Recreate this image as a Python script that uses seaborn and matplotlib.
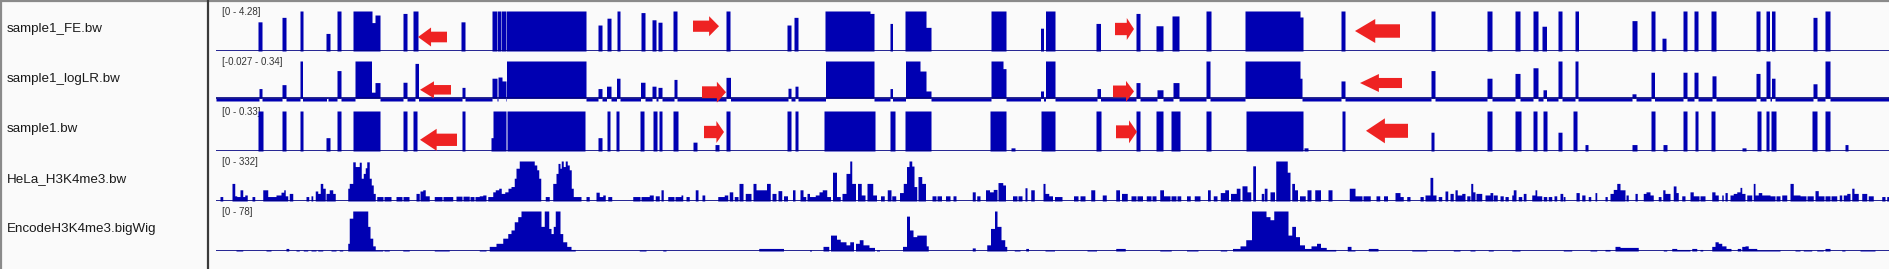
import numpy as np
import pandas as pd
import matplotlib
matplotlib.use("Agg")
import matplotlib.pyplot as plt
from matplotlib.patches import Polygon
from matplotlib.transforms import blended_transform_factory
import seaborn as sns

# ---------------------------------------------------------------- data
LOCUS = (216, 1890)          # genomic window (arbitrary position units)

TRACK_NAMES = ["sample1_FE.bw", "sample1_logLR.bw", "sample1.bw",
               "HeLa_H3K4me3.bw", "EncodeH3K4me3.bigWig"]
RANGE_LABELS = ["[0 - 4.28]", "[-0.027 - 0.34]", "[0 - 0.33]", "[0 - 332]", "[0 - 78]"]
Y_MIN = [0, -0.027, 0, 0, 0]
Y_MAX = [4.28, 0.34, 0.33, 332, 78]
BACKGROUND = [0, -0.027, 0, 0, 0]

# (start, end, value)
FE_PEAKS = [
    (258, 262, 3.12), (282, 286, 3.60), (300, 303, 4.28), (326, 330, 1.88), (337, 341, 4.28),
    (353, 372, 4.28), (372, 375, 3.04), (375, 380, 3.85), (403, 407, 4.02), (413, 418, 4.28),
    (461, 465, 3.12), (492, 497, 4.28), (497.5, 501, 4.28), (501.5, 506, 4.28), (506.5, 586, 4.28),
    (598, 602, 2.78), (607, 611, 3.51), (617, 620, 4.28), (641, 645, 4.11), (652, 656, 3.34),
    (658, 662, 3.08), (673, 677, 4.28), (726, 730, 4.28), (787, 791, 2.78), (794, 798, 3.60),
    (825, 870, 4.28), (870, 874, 4.02), (890, 892.5, 2.95), (905, 926, 4.28), (926, 931, 2.53),
    (991, 1006, 4.28), (1040.5, 1043.5, 2.44), (1045.5, 1055, 4.28), (1096, 1100.5, 2.95),
    (1136, 1140, 4.02), (1156, 1163, 2.70), (1172, 1179, 3.75), (1206, 1211, 4.28),
    (1245, 1300, 4.28), (1300, 1303, 3.64), (1341, 1345, 4.28), (1431, 1435, 4.28),
    (1487, 1492, 4.28), (1515, 1520, 4.28), (1533, 1538, 4.28), (1542, 1546.5, 2.65),
    (1558, 1562, 4.28), (1575, 1578.5, 4.28), (1632, 1637, 3.25), (1651, 1655, 4.28),
    (1662, 1666, 1.37), (1683, 1687, 4.28), (1694, 1698, 4.28), (1711, 1716, 4.28),
    (1756, 1760, 4.28), (1766, 1769.5, 4.28), (1771.5, 1775, 4.28), (1813, 1817, 3.60),
    (1825, 1830, 4.28),
]

LOGLR_PEAKS = [
    (259, 262, 0.087), (282, 286, 0.123), (300, 302.5, 0.34), (326.5, 328, 0.003), (337, 341, 0.252),
    (355, 371.5, 0.34), (371.5, 375, 0.054), (375, 380, 0.142), (403, 407, 0.145), (415, 418.5, 0.318),
    (462, 465, 0.098), (492, 497, 0.182), (498, 502, 0.193), (502, 506, 0.157), (506.5, 586, 0.34),
    (598, 602, 0.087), (606.5, 611, 0.109), (616.5, 620, 0.182), (640.5, 645, 0.145), (652, 656, 0.109),
    (658, 662, 0.098), (674, 677, 0.171), (726, 730.5, 0.19), (788, 791, 0.09), (795, 798, 0.109),
    (825.5, 874, 0.34), (890, 892.5, 0.087), (905.5, 920, 0.34), (920, 926, 0.248), (926, 931, 0.065),
    (991, 1003, 0.34), (1003, 1006, 0.27), (1040.5, 1043.5, 0.065), (1045.5, 1055, 0.34),
    (1097, 1100.5, 0.087), (1136, 1140, 0.142), (1157, 1163, 0.076), (1173, 1179, 0.142),
    (1206, 1210, 0.34), (1245, 1300, 0.34), (1300, 1302, 0.182), (1341, 1345, 0.157),
    (1431, 1435, 0.252), (1487, 1492, 0.182), (1515, 1520, 0.226), (1533, 1538, 0.278),
    (1543, 1546.5, 0.076), (1558, 1562, 0.34), (1575, 1578, 0.34), (1632, 1636, 0.039),
    (1651, 1654.5, 0.237), (1683, 1687, 0.237), (1694, 1698, 0.237), (1712, 1716, 0.204),
    (1756, 1760, 0.226), (1766, 1770, 0.34), (1771.5, 1775, 0.182), (1813, 1817, 0.131),
    (1825, 1830, 0.34),
]

SAMPLE_PEAKS = [
    (258, 263, 0.33), (282, 286, 0.33), (300, 303, 0.33), (326, 330, 0.11), (337, 341, 0.33),
    (353, 380, 0.33), (403, 407, 0.33), (413, 417, 0.33), (462, 465, 0.33), (491, 493, 0.11),
    (493, 506, 0.33), (507, 585, 0.33), (598, 602, 0.11), (607, 610, 0.33), (616, 619, 0.33),
    (640, 644, 0.33), (653, 657, 0.33), (659, 662, 0.33), (673, 678, 0.33), (693, 697, 0.073),
    (715, 719, 0.053), (726, 730, 0.33), (787, 791, 0.33), (795, 798, 0.33), (824, 875, 0.33),
    (890, 895, 0.33), (905, 931, 0.33), (990, 1006, 0.33), (1011, 1015, 0.026), (1041, 1055, 0.33),
    (1096, 1101, 0.33), (1136, 1140, 0.33), (1156, 1163, 0.33), (1171, 1180, 0.33),
    (1206, 1211, 0.33), (1246, 1303, 0.33), (1304, 1308, 0.026), (1342, 1345, 0.33),
    (1431, 1434, 0.155), (1487, 1492, 0.33), (1515, 1521, 0.33), (1533, 1537, 0.33),
    (1543, 1547, 0.33), (1558, 1562, 0.155), (1573, 1577, 0.33), (1585, 1588, 0.053),
    (1632, 1637, 0.053), (1651, 1655, 0.33), (1663, 1667, 0.053), (1683, 1687, 0.33),
    (1695, 1698, 0.33), (1711, 1715, 0.33), (1742, 1746, 0.026), (1757, 1761, 0.33),
    (1766, 1769, 0.33), (1771, 1776, 0.33), (1812, 1817, 0.33), (1825, 1830, 0.33),
    (1845, 1848, 0.053),
]

HELA_PEAKS = [
    (220, 222.7, 37), (232, 234.7, 146), (234.7, 236.7, 43), (236.7, 240, 37), (240, 242.7, 93),
    (242.7, 244.7, 37), (244.7, 247.3, 50), (252, 254.7, 37), (262.7, 267.7, 93), (267.7, 276, 37),
    (276, 281, 50), (281, 283.7, 73), (283.7, 285.3, 93), (285.3, 287.7, 43), (289.3, 292.7, 63),
    (306, 308.7, 37), (311, 312.7, 43), (315.3, 317.7, 83), (317.7, 320.3, 63), (320.3, 322.7, 146),
    (322.7, 325.3, 106), (326, 329.3, 63), (329.3, 332.7, 93), (332.7, 335.3, 63),
    (347.7, 349.3, 106), (349.3, 352.7, 146), (352.7, 355.3, 325), (355.3, 359.3, 286),
    (359.3, 361.3, 322), (361.3, 363.3, 189), (363.3, 365.3, 229), (365.3, 366.7, 276),
    (366.7, 369.3, 325), (369.3, 371.3, 189), (371.3, 373.3, 133), (373.3, 375.3, 63),
    (376.7, 383, 37), (384, 391, 37), (396, 402, 37), (403, 409, 37), (416, 419.3, 63),
    (420, 422.7, 83), (422.7, 425.3, 93), (425.3, 429.3, 43), (434.3, 442, 37), (443, 452.7, 37),
    (456, 462, 40), (463, 469.3, 40), (470, 474, 37), (475, 479.3, 37), (479.3, 482.7, 43),
    (482.7, 486, 50), (487.7, 492.7, 37), (492.7, 495.3, 76), (495.3, 498.7, 93), (498.7, 501.3, 106),
    (501.3, 504.7, 63), (504.7, 508, 76), (508, 511, 106), (511, 514.3, 120), (514.3, 516, 189),
    (516, 519.3, 272), (519.3, 534.3, 332), (534.3, 536.7, 299), (536.7, 538.7, 259),
    (538.7, 540.7, 189), (545.3, 549.3, 37), (552.7, 556, 146), (556, 558, 229), (558, 560, 312),
    (560, 561.3, 272), (561.3, 563.3, 332), (563.3, 565.3, 286), (565.3, 567.3, 332),
    (567.3, 569.3, 299), (569.3, 571.3, 259), (571.3, 573.3, 106), (573.3, 581, 37),
    (586, 589.3, 37), (596, 599.3, 73), (599.3, 602.7, 37), (602.7, 605.3, 50), (607.7, 611.7, 37),
    (632.7, 640, 37), (641, 649.3, 37), (649.3, 653.3, 50), (655.3, 659.3, 43), (661, 663.3, 93),
    (667.7, 674, 37), (675, 681, 37), (681, 682.7, 50), (686, 689.3, 37), (695.3, 698, 93),
    (702, 704.7, 50), (717.7, 724.3, 37), (724.3, 727.7, 50), (729.3, 732.7, 76), (734.3, 738, 37),
    (739, 743, 146), (745.3, 751, 63), (753, 756, 146), (756, 758.7, 93), (758.7, 766.4, 93),
    (766.4, 770.2, 146), (772, 776, 63), (778, 781.7, 86), (783.6, 787.4, 43), (792.4, 795, 93),
    (800, 803, 93), (803, 805.7, 37), (806.9, 809.6, 63), (809.6, 815.3, 37), (815.3, 819.1, 50),
    (819.1, 822.2, 76), (822.2, 826.8, 93), (826.8, 830.6, 37), (832.5, 836.4, 239),
    (836.4, 840.2, 37), (842.1, 845.9, 63), (845.9, 849.8, 229), (849.8, 851.7, 332),
    (851.7, 855.5, 146), (857.4, 861.2, 146), (861.2, 865.1, 50), (867, 872.7, 146),
    (872.7, 876.5, 50), (880.4, 884.2, 43), (887.3, 891.1, 93), (891.8, 895.7, 43),
    (899.5, 903.3, 70), (903.3, 906.4, 146), (906.4, 909.1, 286), (909.1, 911.7, 332),
    (911.7, 914, 290), (914, 916.7, 120), (917.9, 921.7, 203), (921.7, 925.5, 146),
    (932, 936, 43), (937, 941.6, 43), (945.4, 950, 43), (953, 956, 43), (972.2, 975.3, 76),
    (976.8, 979.9, 43), (985.6, 989.4, 93), (989.4, 993.3, 76), (993.3, 997.1, 96),
    (997.9, 1002.8, 153), (1002.8, 1005.5, 133), (1012.4, 1017, 43), (1018, 1022, 43),
    (1025, 1027, 110), (1030.8, 1034.2, 93), (1043, 1045, 146), (1045, 1048.8, 63),
    (1048.8, 1052.6, 43), (1054.5, 1062.1, 37), (1073.6, 1078, 43), (1080, 1085.1, 43),
    (1090.8, 1094.7, 93), (1102.3, 1106.2, 50), (1115.7, 1119.5, 93), (1121.5, 1127.2, 63),
    (1131, 1136, 43), (1137, 1142.5, 43), (1146.3, 1151, 43), (1152, 1155.9, 43),
    (1159.7, 1163.6, 93), (1163.6, 1170, 43), (1171, 1176, 43), (1177, 1180.8, 43),
    (1186.5, 1190.3, 43), (1194.2, 1199.9, 43), (1207.6, 1210.3, 93), (1213.3, 1217.1, 43),
    (1220.2, 1224.8, 70), (1224.8, 1228.6, 93), (1230.5, 1236.3, 63), (1236.3, 1240.1, 106),
    (1242, 1247, 126), (1247, 1250.8, 76), (1252.7, 1255.4, 292), (1261.2, 1263.8, 63),
    (1264.2, 1266.9, 106), (1270, 1274.5, 76), (1275.7, 1287.2, 332), (1287.2, 1289.9, 239),
    (1291.8, 1294.5, 146), (1294.5, 1297.5, 93), (1299.4, 1305.2, 43), (1307.1, 1310.9, 93),
    (1314.7, 1320.5, 93), (1328.1, 1332, 93), (1349.2, 1354.9, 106), (1354.9, 1362, 43),
    (1363, 1370.2, 43), (1376, 1379.8, 43), (1383.6, 1387.4, 43), (1395.1, 1400, 70),
    (1400, 1403.3, 37), (1406.7, 1410, 37), (1420, 1423.3, 37), (1425, 1430, 50),
    (1430, 1432.7, 196), (1432.7, 1436, 50), (1438.3, 1441.7, 37), (1445, 1447.7, 83),
    (1450, 1453.3, 63), (1455, 1457.3, 93), (1457.3, 1461.7, 50), (1461.7, 1465, 63),
    (1466.7, 1470, 43), (1470.7, 1472.7, 146), (1472.7, 1475, 76), (1476, 1481.7, 63),
    (1485, 1490, 50), (1490, 1492.7, 70), (1493.3, 1497.3, 50), (1500, 1503.3, 43),
    (1505, 1508.3, 37), (1511.7, 1513.3, 50), (1513.3, 1516, 93), (1518.3, 1521.7, 37),
    (1523.3, 1526, 63), (1531.7, 1535, 50), (1535, 1536.7, 93), (1536.7, 1541.7, 43),
    (1543.3, 1546.7, 37), (1548.3, 1551.7, 37), (1554, 1556.7, 43), (1560, 1562.7, 63),
    (1563.3, 1565, 37), (1576, 1579.3, 70), (1581.7, 1585, 50), (1588.3, 1590.7, 37),
    (1595, 1596.7, 70), (1605, 1607.3, 37), (1610, 1613.3, 63), (1613.3, 1616.7, 96),
    (1616.7, 1620, 146), (1620, 1625, 93), (1626, 1628.3, 50), (1635, 1637.3, 63),
    (1643.3, 1646, 63), (1646, 1650, 76), (1650, 1653.3, 50), (1658.3, 1661, 37),
    (1662.7, 1665, 93), (1665, 1670, 63), (1673.3, 1676, 125), (1676, 1678.3, 70),
    (1681.7, 1685, 43), (1690, 1693.3, 76), (1693.3, 1699, 43), (1700, 1705, 43),
    (1711.7, 1715, 76), (1715, 1718.3, 50), (1721.7, 1723.3, 50), (1725, 1727.3, 70),
    (1730, 1733.3, 50), (1733.3, 1736.7, 63), (1736.7, 1740, 76), (1740, 1741.7, 113),
    (1741.7, 1745, 63), (1746.7, 1751.7, 50), (1753.3, 1755, 146), (1755, 1758.3, 50),
    (1758.3, 1761.7, 70), (1761.7, 1770, 50), (1770, 1775, 43), (1776, 1780, 43),
    (1781.7, 1786.7, 50), (1790, 1793.3, 146), (1793.3, 1800, 50), (1800, 1806, 43),
    (1807, 1813.3, 43), (1815, 1818.3, 86), (1818.3, 1824, 43), (1825, 1830, 43),
    (1831, 1836.7, 43), (1839.3, 1841.7, 50), (1843.3, 1846.7, 50), (1846.7, 1850, 63),
    (1851.7, 1854, 106), (1854, 1858.3, 63), (1861.7, 1866.7, 63), (1868.3, 1873.3, 43),
    (1881.7, 1885, 37), (1886.7, 1890, 37),
]

ENCODE_PEAKS = [
    (236, 242.7, 2), (266, 271, 2), (286, 288.7, 5), (296, 299.3, 2), (303.3, 307.7, 2),
    (311, 316, 2), (317.7, 322.7, 2), (331, 336, 2), (339.3, 342.7, 2), (347.7, 349.3, 15),
    (349.3, 352.7, 64), (352.7, 367.7, 78), (367.7, 370, 48), (370, 372.7, 25), (372.7, 375.3, 10),
    (375.3, 382.7, 2), (384, 389.3, 2), (402.7, 409.3, 2), (434.3, 449.3, 2), (479.3, 486, 2),
    (489.3, 496, 9), (496, 502.7, 15), (502.7, 507.7, 25), (507.7, 511, 34), (511, 514.3, 41),
    (514.3, 517.7, 57), (517.7, 521, 67), (521, 541, 78), (541, 544.3, 48), (544.3, 548.7, 78),
    (548.7, 551, 44), (551, 553.3, 34), (553.3, 555.3, 48), (555.3, 560, 78), (560, 562.7, 34),
    (562.7, 566.7, 18), (566.7, 571, 9), (571, 575.3, 3), (639.3, 646, 2), (662.7, 666, 2),
    (758.7, 783.6, 5), (809.6, 811.5, 2), (823, 828.7, 9), (830.6, 836.4, 31), (836.4, 840.2, 23),
    (840.2, 845.9, 18), (845.9, 849.8, 12), (849.8, 853.6, 18), (855.5, 859.3, 15),
    (859.3, 863.1, 22), (863.1, 868.9, 12), (868.9, 874.6, 7), (876.5, 879.6, 2),
    (902.6, 906.4, 9), (906.4, 909.5, 68), (909.5, 912.9, 41), (912.9, 916.7, 28),
    (916.7, 926.3, 31), (926.3, 928.2, 10), (972.2, 975.3, 6), (986.8, 990.6, 12),
    (990.6, 994.4, 44), (994.4, 997.1, 78), (997.1, 1000.9, 48), (1000.9, 1004.7, 22),
    (1004.7, 1006.7, 9), (1014.3, 1020, 2), (1025.8, 1028.5, 5), (1044.9, 1054.5, 2),
    (1087, 1096.6, 2), (1115.7, 1125.3, 5), (1159.7, 1171.2, 2), (1186.5, 1198, 2),
    (1220.2, 1226.7, 2), (1232.5, 1240.1, 5), (1240.1, 1245.8, 10), (1245.8, 1251.6, 22),
    (1251.6, 1266.1, 78), (1266.1, 1269.9, 67), (1269.9, 1273.8, 61), (1273.8, 1287.9, 78),
    (1287.9, 1291.8, 31), (1291.8, 1295.6, 48), (1295.6, 1299.4, 28), (1299.4, 1304.4, 12),
    (1304.4, 1310.9, 5), (1310.9, 1316.6, 10), (1316.6, 1320.5, 15), (1320.5, 1326.2, 7),
    (1326.2, 1335.8, 3), (1347.2, 1351.1, 9), (1351.1, 1354.9, 2), (1368.3, 1377.9, 5),
    (1411.7, 1426.7, 2), (1453.3, 1460, 2), (1470, 1475, 2), (1488.3, 1493.3, 2), (1511.7, 1520, 2),
    (1563.3, 1571.7, 2), (1590, 1596.7, 2), (1605, 1610, 3), (1615, 1620, 9), (1620, 1638.3, 7),
    (1663.3, 1666.7, 2), (1671.7, 1676.7, 5), (1676.7, 1690, 3), (1691.7, 1696.7, 5),
    (1700, 1702.7, 3), (1711.7, 1715, 9), (1715, 1718.3, 18), (1718.3, 1721.7, 15),
    (1721.7, 1726, 10), (1726, 1731, 5), (1737.3, 1740.7, 5), (1741.7, 1745, 9), (1745, 1748.3, 10),
    (1748.3, 1756.7, 5), (1756.7, 1780, 2), (1795, 1800, 2), (1803.3, 1811.7, 2),
    (1816.7, 1823.3, 2), (1825, 1830, 5), (1841.7, 1845, 2), (1860, 1875, 2),
]

TRACK_PEAKS = [FE_PEAKS, LOGLR_PEAKS, SAMPLE_PEAKS, HELA_PEAKS, ENCODE_PEAKS]

# strand annotation arrows: (track, x_left, x_right, y_center_frac_of_track, height_px, direction)
ARROWS = [
    (0, 418, 447, 0.35, 19, "left"), (0, 693, 719, 0.62, 20, "right"),
    (0, 1115, 1134, 0.55, 22, "right"), (0, 1355, 1400, 0.50, 24, "left"),
    (1, 420, 451, 0.28, 17, "left"), (1, 702, 726, 0.22, 21, "right"),
    (1, 1113, 1134, 0.24, 21, "right"), (1, 1360, 1402, 0.45, 18, "left"),
    (2, 420, 457, 0.28, 22, "left"), (2, 704, 724, 0.475, 22, "right"),
    (2, 1116, 1137, 0.48, 23, "right"), (2, 1366, 1408, 0.505, 25, "left"),
]

# ---------------------------------------------------------------- style
W, H, DPI = 1890, 269, 100
BAR = "#0000B2"
BASE = "#000080"
ARROW_RED = "#EE2222"
BG = "#FAFAFA"
TRACK_TOP0, TRACK_H, TRACK_PITCH = 11, 40, 50

sns.set_theme(style="white")
plt.rcParams["font.family"] = ["Liberation Sans", "DejaVu Sans"]

fig = plt.figure(figsize=(W / DPI, H / DPI), dpi=DPI)
fig.patch.set_facecolor(BG)

STEP = 0.25
N_BINS = int(round((LOCUS[1] - LOCUS[0]) / STEP))
centers = LOCUS[0] + STEP * (np.arange(N_BINS) + 0.5)


def build_signal(peaks, bg):
    y = np.full(centers.size, float(bg))
    for s, e, v in peaks:
        y[(centers >= s) & (centers < e)] = v
    return pd.DataFrame({"pos": centers, "signal": y})


for i, peaks in enumerate(TRACK_PEAKS):
    top = TRACK_TOP0 + i * TRACK_PITCH
    ax = fig.add_axes([LOCUS[0] / W, 1 - (top + TRACK_H) / H,
                       (LOCUS[1] - LOCUS[0]) / W, TRACK_H / H])
    ax.set_facecolor("none")
    df = build_signal(peaks, BACKGROUND[i])
    sns.histplot(data=df, x="pos", weights="signal", bins=N_BINS, binrange=LOCUS,
                 element="step", fill=True, color=BAR, alpha=1, linewidth=0,
                 ax=ax, zorder=2)
    ax.axhline(0, color=BASE, lw=1.2, zorder=3)
    ax.set_xlim(*LOCUS)
    ax.set_ylim(Y_MIN[i], Y_MAX[i])
    ax.axis("off")
    tr = blended_transform_factory(ax.transData, ax.transAxes)
    ax.text(LOCUS[0] + 6, 0.985, RANGE_LABELS[i], transform=tr, fontsize=7,
            color="#333333", va="center", ha="left", zorder=1, clip_on=False)

# overlay in figure pixel coordinates for panel borders, names and arrows
ov = fig.add_axes([0, 0, 1, 1], zorder=10)
ov.set_xlim(0, W)
ov.set_ylim(H, 0)
ov.axis("off")
ov.plot([0, W], [0.8, 0.8], color="#8A8A8A", lw=1.6)
ov.plot([0.8, 0.8], [0, H], color="#8A8A8A", lw=1.6)
ov.plot([207.5, 207.5], [0, H], color="#3A3A3A", lw=1.6)

for i, name in enumerate(TRACK_NAMES):
    ov.text(7, 29 + i * TRACK_PITCH, name, fontsize=9.6, color="#1A1A1A",
            va="center", ha="left")


def arrow_polygon(x0, x1, yc, h, direction):
    length = x1 - x0
    head = 0.45 * length if direction == "left" else 0.38 * length
    th = 0.28 * h
    if direction == "left":
        xs = [x0, x0 + head, x0 + head, x1, x1, x0 + head, x0 + head]
    else:
        xs = [x1, x1 - head, x1 - head, x0, x0, x1 - head, x1 - head]
    ys = [yc, yc - h / 2, yc - th, yc - th, yc + th, yc + th, yc + h / 2]
    return np.column_stack([xs, ys])


for t, x0, x1, yfrac, h, d in ARROWS:
    top = TRACK_TOP0 + t * TRACK_PITCH
    yc = top + (1 - yfrac) * TRACK_H
    ov.add_patch(Polygon(arrow_polygon(x0, x1, yc, h, d), closed=True,
                         facecolor=ARROW_RED, edgecolor="none"))

fig.savefig("out.png", dpi=DPI, facecolor=fig.get_facecolor())
